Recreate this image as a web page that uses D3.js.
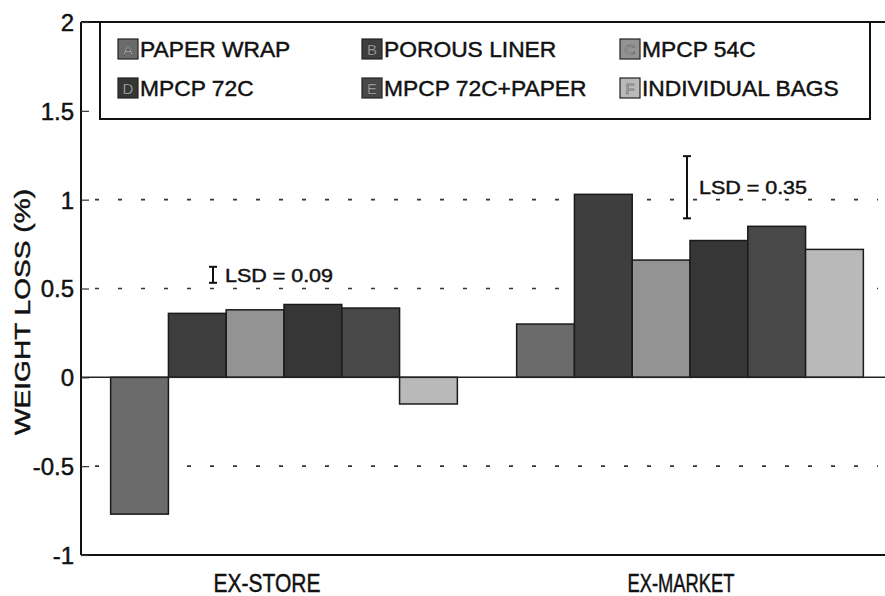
<!DOCTYPE html>
<html><head><meta charset="utf-8">
<script src="https://cdn.jsdelivr.net/npm/d3@7"></script>
<style>body{margin:0;background:#fff}svg{display:block}text{font-family:"Liberation Sans",Arial,sans-serif}</style>
</head><body>
<script>
const groups = ["EX-STORE", "EX-MARKET"];
const seriesKeys = ["A", "B", "C", "D", "E", "F"];
const seriesNames = ["PAPER WRAP", "POROUS LINER", "MPCP 54C", "MPCP 72C", "MPCP 72C+PAPER", "INDIVIDUAL BAGS"];
const exStore = [-0.77, 0.36, 0.38, 0.41, 0.39, -0.15];
const exMarket = [0.30, 1.03, 0.66, 0.77, 0.85, 0.72];
const colors = ["#6b6b6b", "#3e3e3e", "#939393", "#363636", "#484848", "#b9b9b9"];
const yTicks = [-1, -0.5, 0, 0.5, 1, 1.5, 2];
const gridVals = [1, 0.5, -0.5];
const lsdLabels = ["LSD = 0.09", "LSD = 0.35"];
const lsdValues = [0.09, 0.35];
const lsdCenters = [0.577, 1.07];

(function () {
const W = 885, H = 596;
const svg = d3.select("body").append("svg").attr("width", W).attr("height", H);
const pL = 81, pR = 885, pT = 22, pB = 555;
const heavy = sel => sel.attr("fill", "#111").attr("stroke", "#111").attr("stroke-width", 0.45);

const y = d3.scaleLinear().domain([-1, 2]).range([pB, pT]);
const x0 = d3.scaleBand().domain(groups).range([81, 893]).paddingInner(0.146).paddingOuter(0.073);
const x1 = d3.scaleBand().domain(seriesKeys).range([0, x0.bandwidth()]);

const data = groups.map((g, gi) => ({g, vals: (gi === 0 ? exStore : exMarket)}));

// gridlines
svg.append("g").selectAll("line").data(gridVals).join("line")
  .attr("x1", pL).attr("x2", 878)
  .attr("y1", d => y(d)).attr("y2", d => y(d))
  .attr("stroke", "#333").attr("stroke-width", 1.6)
  .attr("stroke-dasharray", "4,19").attr("stroke-dashoffset", -14);

// bars
const gg = svg.append("g").selectAll("g").data(data).join("g")
  .attr("transform", d => `translate(${x0(d.g)},0)`);
gg.selectAll("rect").data(d => d.vals.map((v, i) => ({v, k: seriesKeys[i], i}))).join("rect")
  .attr("x", d => x1(d.k)).attr("width", x1.bandwidth())
  .attr("y", d => y(Math.max(0, d.v))).attr("height", d => Math.abs(y(d.v) - y(0)))
  .attr("fill", d => colors[d.i]).attr("stroke", "#1a1a1a").attr("stroke-width", 1.5);

// zero line
svg.append("line").attr("x1", pL).attr("x2", pR).attr("y1", y(0)).attr("y2", y(0))
  .attr("stroke", "#222").attr("stroke-width", 1.5);

// axes frame
svg.append("line").attr("x1", pL).attr("x2", pL).attr("y1", pT).attr("y2", pB).attr("stroke", "#111").attr("stroke-width", 2);
svg.append("line").attr("x1", pL).attr("x2", pR).attr("y1", pB).attr("y2", pB).attr("stroke", "#111").attr("stroke-width", 2);
svg.append("line").attr("x1", pL).attr("x2", pR).attr("y1", pT).attr("y2", pT).attr("stroke", "#111").attr("stroke-width", 2);

// y axis
const yAxis = d3.axisLeft(y).tickValues(yTicks).tickSize(-8).tickPadding(7).tickFormat(d => String(d));
const ya = svg.append("g").attr("transform", `translate(${pL},0)`).call(yAxis);
ya.select(".domain").remove();
ya.selectAll("line").attr("stroke", "#333").attr("stroke-width", 1.2);
ya.selectAll("text").attr("font-size", 24).attr("dy", "0.35em").call(heavy);

// x labels
const xCenters = [267, 681];
svg.append("g").selectAll("text").data(groups).join("text")
  .attr("x", (d, i) => xCenters[i]).attr("y", 592)
  .attr("text-anchor", "middle").attr("font-size", 25)
  .attr("textLength", 107).attr("lengthAdjust", "spacingAndGlyphs")
  .call(heavy).text(d => d);

// y title
svg.append("text").attr("transform", `translate(30,312) rotate(-90)`)
  .attr("text-anchor", "middle").attr("font-size", 22)
  .attr("textLength", 246).attr("lengthAdjust", "spacingAndGlyphs")
  .call(heavy).text("WEIGHT LOSS (%)");

// legend box
const lg = svg.append("g");
lg.append("rect").attr("x", 100).attr("y", pT).attr("width", 770).attr("height", 97)
  .attr("fill", "#fff").attr("stroke", "#111").attr("stroke-width", 2);
const colX = [118, 362, 620];
const rowY = [49, 88];
seriesKeys.forEach((k, i) => {
  const cx = colX[i % 3], cy = rowY[Math.floor(i / 3)];
  lg.append("rect").attr("x", cx).attr("y", cy - 10).attr("width", 20).attr("height", 20)
    .attr("fill", colors[i]).attr("stroke", "#222").attr("stroke-width", 1.2);
  lg.append("text").attr("x", cx + 10).attr("y", cy + 6).attr("text-anchor", "middle")
    .attr("font-size", 15).attr("fill", "#bbb").attr("stroke", "#333").attr("stroke-width", 0.4).text(k);
  lg.append("text").attr("x", cx + 22).attr("y", cy + 8).attr("font-size", 22.8)
    .call(heavy).text(seriesNames[i]);
});

// LSD bars
const lsdX = [213, 687];
lsdValues.forEach((v, i) => {
  const c = lsdCenters[i];
  const y1 = y(c - v / 2), y2 = y(c + v / 2);
  const g = svg.append("g").attr("stroke", "#111").attr("stroke-width", 2);
  g.append("line").attr("x1", lsdX[i]).attr("x2", lsdX[i]).attr("y1", y1).attr("y2", y2);
  g.append("line").attr("x1", lsdX[i] - 4).attr("x2", lsdX[i] + 4).attr("y1", y1).attr("y2", y1);
  g.append("line").attr("x1", lsdX[i] - 4).attr("x2", lsdX[i] + 4).attr("y1", y2).attr("y2", y2);
  svg.append("text").attr("x", lsdX[i] + 12).attr("y", y(c) + 7).attr("font-size", 18)
    .attr("textLength", 108).attr("lengthAdjust", "spacingAndGlyphs")
    .call(heavy).text(lsdLabels[i]);
});
})();
</script>
</body></html>
